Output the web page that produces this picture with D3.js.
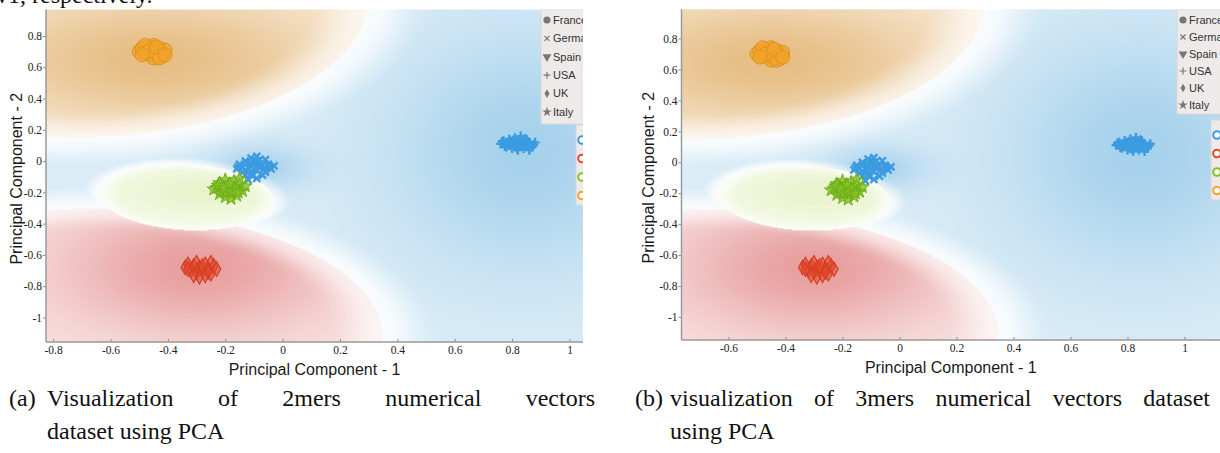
<!DOCTYPE html>
<html>
<head>
<meta charset="utf-8">
<title>PCA clusters</title>
<style>
    body { margin: 0; background: #fff; }
    svg { display: block; }
    .tick text { font-family: "Liberation Serif", serif; font-size: 11.5px; fill: #222; }
    .tick line { stroke: #8a8a8a; }
    .axis-line { stroke: #9a9a9a; stroke-width: 1.5; }
    .title { font-family: "Liberation Sans", Arial, sans-serif; font-size: 16px; fill: #1a1a1a; }
    .caption { font-family: "Liberation Serif", serif; font-size: 24px; fill: #111; }
    .legend text { font-family: "Liberation Sans", Arial, sans-serif; font-size: 11px; fill: #333; }
</style>
</head>
<body>
<svg id="chart" width="1220" height="453"></svg>
<script src="https://cdnjs.cloudflare.com/ajax/libs/d3/7.8.5/d3.min.js"></script>
<script>
// ---- data ----
const countries = ["France", "Germany", "Spain", "USA", "UK", "Italy"];
const xTicksA = [-0.8, -0.6, -0.4, -0.2, 0, 0.2, 0.4, 0.6, 0.8, 1];
const xTicksB = [-0.6, -0.4, -0.2, 0, 0.2, 0.4, 0.6, 0.8, 1];
const yTicks = [0.8, 0.6, 0.4, 0.2, 0, -0.2, -0.4, -0.6, -0.8, -1];

const francePts = [[-0.50,0.70],[-0.49,0.72],[-0.48,0.69],[-0.47,0.73],[-0.46,0.71],[-0.45,0.74],[-0.44,0.70],[-0.43,0.72],[-0.42,0.69],[-0.41,0.71],
    [-0.48,0.74],[-0.46,0.68],[-0.44,0.67],[-0.42,0.67],[-0.45,0.66],[-0.43,0.66],[-0.47,0.70],[-0.44,0.73],[-0.49,0.68],[-0.41,0.68]];
const germanyPts = [[-0.16,-0.05],[-0.15,-0.02],[-0.14,-0.07],[-0.13,0.00],[-0.12,-0.04],[-0.11,0.02],[-0.10,-0.02],[-0.09,-0.06],[-0.08,0.01],[-0.07,-0.03],
    [-0.06,-0.07],[-0.05,-0.02],[-0.04,-0.05],[-0.03,-0.03],[-0.13,-0.09],[-0.11,-0.08],[-0.09,-0.11],[-0.07,-0.09],[-0.12,-0.12],[-0.10,-0.05],
    [-0.08,-0.04],[-0.14,-0.04],[-0.09,0.03],[-0.06,0.01],[-0.155,-0.035],[-0.125,-0.065],[-0.105,-0.095],[-0.085,-0.025],[-0.065,-0.05],
    [-0.045,-0.035],[-0.115,-0.015],[-0.095,0.005]];
const usaPts = [[0.76,0.11],[0.77,0.13],[0.78,0.09],[0.79,0.14],[0.80,0.11],[0.81,0.15],[0.82,0.10],[0.83,0.13],[0.84,0.08],[0.85,0.14],[0.86,0.11],
    [0.87,0.09],[0.88,0.12],[0.78,0.12],[0.80,0.08],[0.82,0.07],[0.84,0.12],[0.86,0.07],[0.81,0.12],[0.83,0.16],[0.79,0.10],[0.85,0.10],
    [0.765,0.125],[0.775,0.095],[0.795,0.125],[0.815,0.085],[0.835,0.105],[0.855,0.125],[0.875,0.105],[0.805,0.135],[0.845,0.145],[0.825,0.12]];
const ukPts = [[-0.34,-0.68],[-0.33,-0.66],[-0.31,-0.67],[-0.30,-0.65],[-0.29,-0.68],[-0.27,-0.66],[-0.25,-0.65],[-0.24,-0.67],[-0.23,-0.69],[-0.32,-0.70],
    [-0.30,-0.71],[-0.28,-0.70],[-0.26,-0.69],[-0.25,-0.72],[-0.29,-0.74],[-0.27,-0.73],[-0.31,-0.73],[-0.33,-0.69],[-0.28,-0.67],[-0.26,-0.71]];
const italyPts = [[-0.23,-0.17],[-0.22,-0.14],[-0.21,-0.19],[-0.20,-0.12],[-0.19,-0.16],[-0.18,-0.21],[-0.17,-0.13],[-0.16,-0.18],[-0.15,-0.15],[-0.14,-0.19],
    [-0.13,-0.16],[-0.22,-0.21],[-0.20,-0.23],[-0.18,-0.24],[-0.16,-0.22],[-0.19,-0.18],[-0.21,-0.16],[-0.17,-0.17],[-0.15,-0.11],[-0.24,-0.18],
    [-0.225,-0.155],[-0.195,-0.20],[-0.175,-0.19],[-0.155,-0.20],[-0.205,-0.17],[-0.185,-0.145]];

// ---- styles ----
const blue = "#3b9be0", red = "#e2492b", green = "#84c226", orange = "#f2a42c";
const clusterColors = [blue, red, green, orange];

let svg = d3.select("#chart");

function smooth(e0, e1, v) {
    let t = Math.max(0, Math.min(1, (v - e0) / (e1 - e0)));
    return t * t * (3 - 2 * t);
}
function gauss(x, y, cx, cy, sx, sy) {
    let a = (x - cx) / sx, b = (y - cy) / sy;
    return Math.exp(-0.5 * (a * a + b * b));
}
function ell(e, x, y) {
    let c = Math.cos(e.rot), s = Math.sin(e.rot), dx = x - e.cx, dy = y - e.cy;
    let u = (dx * c + dy * s) / e.rx, v = (-dx * s + dy * c) / e.ry;
    return Math.sqrt(u * u + v * v);
}
// decision regions of the shaded background
const regOrange = { cx: -0.75, cy: 1.05, rx: 1.05, ry: 0.9, rot: 0 };
const regGreen = { cx: -0.335, cy: -0.23, rx: 0.305, ry: 0.21, rot: -0.15 };
const regRed = { cx: -0.6, cy: -1.05, rx: 0.95, ry: 0.74, rot: -0.15 };

function fieldColor(x, y) {
    let dO = ell(regOrange, x, y), dG = ell(regGreen, x, y), dR = ell(regRed, x, y);
    let col, t;
    if (dO < 1) {
        col = [222, 168, 92];
        t = (0.2 + 0.55 * gauss(x, y, -0.45, 0.65, 0.45, 0.3)) * (0.35 + 0.65 * smooth(0, 0.2, 1 - dO));
    } else if (dG < 1) {
        col = [208, 230, 150];
        t = (0.18 + 0.3 * gauss(x, y, -0.28, -0.2, 0.22, 0.11)) * (0.35 + 0.65 * smooth(0, 0.25, 1 - dG));
    } else if (dR < 1) {
        col = [222, 118, 118];
        t = (0.2 + 0.5 * gauss(x, y, -0.3, -0.68, 0.35, 0.3)) * (0.35 + 0.65 * smooth(0, 0.2, 1 - dR));
    } else {
        col = [125, 188, 226];
        let dm = Math.min(dO, dG, dR);
        t = (0.28 + 0.4 * gauss(x, y, 0.85, 0.06, 0.35, 0.55)) * (0.15 + 0.85 * smooth(1, 1.22, dm))
            + 0.35 * gauss(x, y, -0.08, -0.04, 0.12, 0.1);
    }
    t = Math.min(t, 0.85);
    return col.map(c => Math.round(255 - (255 - c) * t));
}

const plus = "M-4.5,0H4.5M0,-4.5V4.5", cross = "M-3.5,-3.5L3.5,3.5M-3.5,3.5L3.5,-3.5";

function drawPanel(p) {
    let x = d3.scaleLinear().domain([-0.6, 1]).range(p.xRange),
        y = d3.scaleLinear().domain([-1, 0.8]).range(p.yRange);
    let g = svg.append("g");
    let pw = Math.round(p.right - p.left), ph = Math.round(p.bottom - p.top);

    // shaded regions
    let canvas = document.createElement("canvas");
    canvas.width = pw; canvas.height = ph;
    let ctx = canvas.getContext("2d"), img = ctx.createImageData(pw, ph);
    for (let j = 0; j < ph; j++) {
        for (let i = 0; i < pw; i++) {
            let c = fieldColor(x.invert(p.left + i + 0.5), y.invert(p.top + j + 0.5)), k = (j * pw + i) * 4;
            img.data[k] = c[0]; img.data[k + 1] = c[1]; img.data[k + 2] = c[2]; img.data[k + 3] = 255;
        }
    }
    ctx.putImageData(img, 0, 0);
    g.append("image").attr("x", p.left).attr("y", p.top).attr("width", pw).attr("height", ph)
        .attr("preserveAspectRatio", "none").attr("href", canvas.toDataURL());

    g.append("clipPath").attr("id", "clip" + p.id).append("rect")
        .attr("x", p.left).attr("y", p.top).attr("width", pw).attr("height", ph);
    let pts = g.append("g").attr("clip-path", "url(#clip" + p.id + ")");

    pts.selectAll(".us").data(usaPts).enter().append("path")
        .attr("d", plus).attr("transform", d => "translate(" + x(d[0]) + "," + y(d[1]) + ")")
        .attr("stroke", blue).attr("stroke-width", 2.4).attr("fill", "none");
    pts.selectAll(".de").data(germanyPts).enter().append("path")
        .attr("d", cross).attr("transform", d => "translate(" + x(d[0]) + "," + y(d[1]) + ")")
        .attr("stroke", blue).attr("stroke-width", 2.4).attr("fill", "none");
    pts.selectAll(".it").data(italyPts).enter().append("path")
        .attr("d", d3.symbol(d3.symbolStar, 55))
        .attr("transform", d => "translate(" + x(d[0]) + "," + y(d[1]) + ")")
        .attr("fill", green).attr("fill-opacity", 0.8).attr("stroke", "#6fae1a").attr("stroke-width", 1);
    pts.selectAll(".uk").data(ukPts).enter().append("path")
        .attr("d", d3.symbol(d3.symbolDiamond, 60))
        .attr("transform", d => "translate(" + x(d[0]) + "," + y(d[1]) + ")")
        .attr("fill", red).attr("fill-opacity", 0.55).attr("stroke", "#d63e22").attr("stroke-width", 1.2);
    pts.selectAll(".fr").data(francePts).enter().append("circle")
        .attr("cx", d => x(d[0])).attr("cy", d => y(d[1])).attr("r", 7)
        .attr("fill", orange).attr("fill-opacity", 0.7).attr("stroke", "#dc9218").attr("stroke-width", 1);

    // legends (cut by the page edge, as in the scan)
    let lg = pts.append("g").attr("class", "legend");
    lg.append("rect").attr("x", p.leg1[0]).attr("y", p.leg1[1]).attr("width", 70).attr("height", p.leg1[2])
        .attr("fill", "#efeaea").attr("stroke", "#dcd6d6");
    let shapes = [d3.symbol(d3.symbolCircle, 40)(), cross.replace(/3\.5/g, "2.5"), d3.symbol(d3.symbolTriangle, 34)(),
        plus.replace(/4\.5/g, "3.5"), d3.symbol(d3.symbolDiamond, 22)(), d3.symbol(d3.symbolStar, 30)()];
    let items = lg.selectAll(".item").data(countries).enter().append("g")
        .attr("transform", (d, i) => "translate(" + (p.leg1[0] + 6) + "," + (p.leg1[1] + 11 + i * p.leg1[3]) + ")");
    items.append("path").attr("d", (d, i) => shapes[i])
        .attr("transform", (d, i) => i == 2 ? "rotate(180)" : null)
        .attr("fill", (d, i) => (i == 1 || i == 3) ? "none" : "#777")
        .attr("stroke", "#777").attr("stroke-width", (d, i) => (i == 1 || i == 3) ? 1.2 : 0);
    items.append("text").attr("x", 6).attr("dy", "0.35em").text(d => d);

    lg.append("rect").attr("x", p.leg2[0]).attr("y", p.leg2[1]).attr("width", 60).attr("height", 80)
        .attr("fill", "#efeaea").attr("stroke", "#dcd6d6");
    lg.selectAll(".dot").data(clusterColors).enter().append("circle")
        .attr("cx", p.leg2[0] + 6).attr("cy", (d, i) => p.leg2[1] + 15 + i * 18.5).attr("r", 3.8)
        .attr("fill", "#fff").attr("stroke", d => d).attr("stroke-width", 2);

    // axes
    let ay = g.append("g").attr("transform", "translate(" + p.left + ",0)")
        .call(d3.axisLeft(y).tickValues(yTicks).tickSize(3).tickPadding(1).tickFormat(d => String(d)))
        .attr("font-family", "Liberation Serif").attr("font-size", 11.5);
    ay.select(".domain").remove();
    let ax = g.append("g").attr("transform", "translate(0," + p.bottom + ")")
        .call(d3.axisBottom(x).tickValues(p.xTicks).tickSize(-3).tickPadding(4).tickFormat(d => String(d)))
        .attr("font-family", "Liberation Serif").attr("font-size", 11.5);
    ax.select(".domain").remove();
    g.append("line").attr("class", "axis-line").attr("x1", p.left).attr("x2", p.left).attr("y1", p.top).attr("y2", p.bottom);
    g.append("line").attr("class", "axis-line").attr("x1", p.left).attr("x2", p.right).attr("y1", p.bottom).attr("y2", p.bottom);

    g.append("text").attr("class", "title").attr("text-anchor", "middle")
        .attr("x", (p.left + p.right) / 2).attr("y", p.bottom + 33).text("Principal Component - 1");
    g.append("text").attr("class", "title").attr("text-anchor", "middle")
        .attr("transform", "translate(" + p.ytx + "," + ((p.top + p.bottom) / 2 + 3) + ") rotate(-90)")
        .text("Principal Component - 2");
}

drawPanel({ id: "a", left: 46, right: 583, top: 9.5, bottom: 342, xRange: [110.5, 569.5], yRange: [317.5, 36],
    xTicks: xTicksA, ytx: 21.5, leg1: [541, 9, 115, 18.4], leg2: [576, 125] });
drawPanel({ id: "b", left: 681.5, right: 1220, top: 9.3, bottom: 340, xRange: [728.5, 1184.5], yRange: [317, 38.5],
    xTicks: xTicksB, ytx: 654, leg1: [1177, 9, 105, 17], leg2: [1211, 120] });

// captions, justified like the scanned page
function justified(x0, x1, yb, str) {
    let t = svg.append("text").attr("class", "caption").attr("x", x0).attr("y", yb).text(str);
    let gaps = str.split(" ").length - 1, w = t.node().getComputedTextLength();
    t.attr("word-spacing", (x1 - x0 - w) / gaps);
}
svg.append("text").attr("class", "caption").attr("x", -4).attr("y", 3).text("v1, respectively.");
svg.append("text").attr("class", "caption").attr("x", 9).attr("y", 406).text("(a)");
justified(47, 595, 406, "Visualization of 2mers numerical vectors");
svg.append("text").attr("class", "caption").attr("x", 47).attr("y", 439).text("dataset using PCA");
svg.append("text").attr("class", "caption").attr("x", 635).attr("y", 406).text("(b)");
justified(670, 1210, 406, "visualization of 3mers numerical vectors dataset");
svg.append("text").attr("class", "caption").attr("x", 670).attr("y", 439).text("using PCA");
</script>
</body>
</html>
